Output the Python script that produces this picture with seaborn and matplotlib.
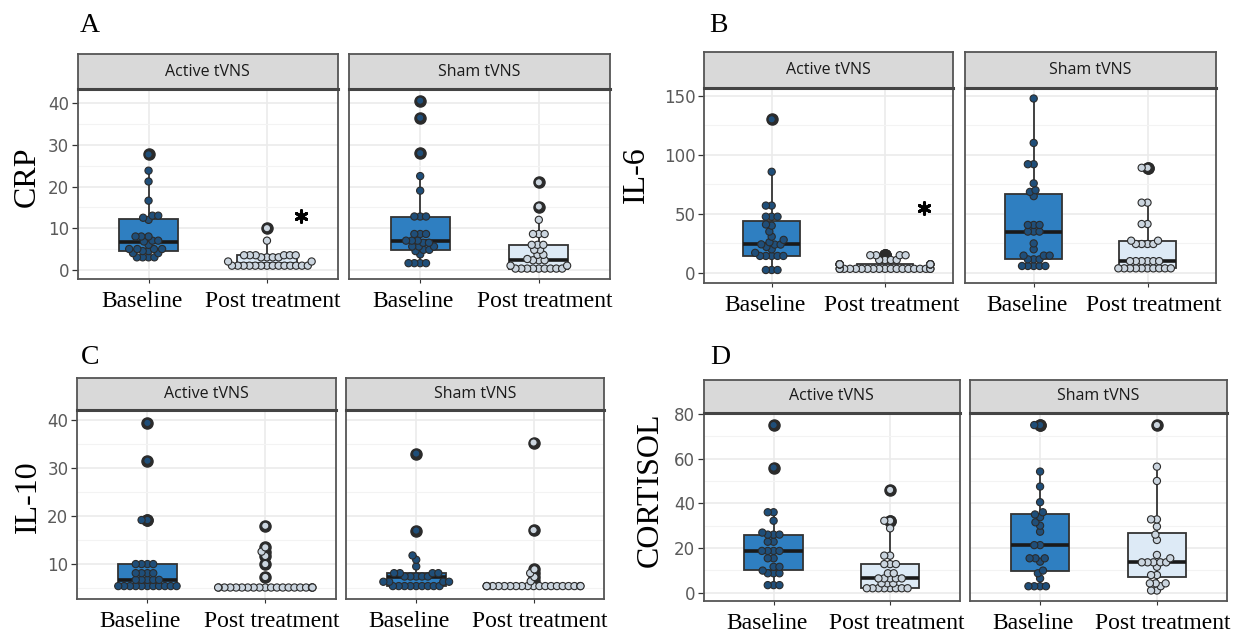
import matplotlib
matplotlib.use("Agg")
import matplotlib.pyplot as plt
from matplotlib.ticker import FixedLocator
import numpy as np
import pandas as pd
import seaborn as sns

sns.set_theme(style="white")
plt.rcParams["font.family"] = ["DejaVu Sans"]

# ---------------- data ----------------
facets = ["Active tVNS", "Sham tVNS"]
times = ["Baseline", "Post treatment"]
panel_letters = ["A", "B", "C", "D"]
markers = ["CRP", "IL-6", "IL-10", "CORTISOL"]

crp_active_base = [3, 3, 3, 3, 4, 4, 4.5, 4.5, 5, 5, 5, 5, 6, 6.8, 7, 7, 8, 8, 8,
                   12, 12.5, 13, 13, 16.6, 21.2, 23.8, 27.7]
crp_active_post = [1, 1, 1, 1, 1, 1, 1, 1, 1, 1, 1, 1, 1, 1, 2, 2, 3, 3, 3, 3,
                   3.5, 3.5, 3.5, 3.5, 3.5, 3.5, 7, 10]
crp_sham_base = [1.6, 1.6, 1.6, 1.6, 3.7, 4.5, 4.8, 4.8, 5.6, 5.6, 5.6, 6.5, 6.5,
                 7, 7, 7, 8.6, 8.6, 8.6, 12.8, 12.8, 12.8, 19, 22.5, 28, 36.5, 40.6]
crp_sham_post = [0.3, 0.3, 0.3, 0.3, 0.3, 0.3, 0.3, 0.3, 0.3, 1, 1, 2.3, 2.3, 2.3,
                 2.6, 3.6, 3.6, 4.8, 4.8, 6, 6, 6, 8.6, 8.6, 8.6, 12, 15.2, 21]

il6_active_base = [2.5, 2.5, 2.5, 14.4, 14.4, 14.4, 14.4, 14.4, 17, 20, 22, 24, 24,
                   24.2, 26, 28, 30.7, 35, 40, 41, 47.6, 47.6, 47.6, 57, 57, 85.6, 130]
il6_active_post = [3.5, 3.5, 3.5, 3.5, 3.5, 3.5, 3.5, 3.5, 3.5, 3.5, 3.5, 3.5, 3.5,
                   3.5, 3.5, 3.5, 3.5, 3.5, 3.5, 7.3, 7.3, 7.3, 7.3, 7.3, 7.3, 7.3,
                   7.3, 7.3, 7.3, 11, 11, 11, 11, 15, 15, 15, 15]
il6_sham_base = [5.9, 5.9, 5.9, 5.9, 5.9, 11.5, 11.5, 11.5, 14.7, 14.7, 14.7, 20, 25,
                 35, 35, 35, 40.6, 40.6, 40.6, 65, 68.6, 70, 75.8, 92, 92, 110, 147.6]
il6_sham_post = [3.9, 3.9, 3.9, 3.9, 3.9, 3.9, 3.9, 3.9, 3.9, 3.9, 10, 10, 10, 10, 10,
                 10, 24.5, 24.5, 24.5, 24.5, 27.3, 27.3, 41.4, 41.4, 59.5, 59.5, 89, 89]

il10_active_base = [5.3, 5.3, 5.3, 5.3, 5.3, 5.3, 5.3, 5.3, 5.3, 5.3, 5.3, 6.6, 6.6,
                    6.6, 6.6, 6.6, 8, 8, 8, 8, 9.9, 9.9, 9.9, 9.9, 19.1, 19.1, 31.5, 39.4]
il10_active_post = [5, 5, 5, 5, 5, 5, 5, 5, 5, 5, 5, 5, 5, 5, 5, 5, 5, 5, 5, 5,
                    7.2, 9.9, 11.6, 12.5, 13.4, 17.9]
il10_sham_base = [5.3, 5.3, 5.3, 5.3, 5.3, 5.3, 5.3, 5.3, 5.3, 6.2, 6.2, 6.2, 6.2,
                  7.3, 7.3, 7.3, 7.3, 7.3, 8, 8, 8, 8, 9.4, 10.8, 11.7, 16.9, 33]
il10_sham_post = [5.3, 5.3, 5.3, 5.3, 5.3, 5.3, 5.3, 5.3, 5.3, 5.3, 5.3, 5.3, 5.3,
                  5.3, 5.3, 5.3, 5.3, 5.3, 5.3, 5.3, 6.3, 7.2, 8, 8.8, 17, 35.3]

cort_active_base = [3.4, 3.4, 3.4, 8.7, 8.7, 8.7, 9.9, 11.6, 11.6, 15.4, 15.4, 18.7,
                    18.7, 18.7, 18.7, 22.8, 22.8, 26, 26, 26, 26.9, 32.2, 36, 36, 56, 75]
cort_active_post = [2, 2, 2, 2, 2, 2, 2, 2, 4.2, 4.2, 4.2, 6.4, 6.4, 6.4, 6.4, 6.4,
                    8.7, 8.7, 12.8, 12.8, 12.8, 16.6, 16.6, 28.8, 32.2, 32.2, 46]
cort_sham_base = [2.9, 2.9, 2.9, 2.9, 6.4, 8.7, 9.9, 13.9, 15.4, 15.4, 15.4, 21.3,
                  21.3, 27.3, 30, 31.5, 33.8, 35, 36, 40.5, 47.5, 54.2, 75, 75]
cort_sham_post = [1, 1, 2.9, 4.2, 4.2, 4.2, 7.9, 7.9, 11.6, 13.6, 13.6, 13.6, 13.6,
                  13.6, 15.4, 16.9, 23.6, 26, 29.6, 32.8, 32.8, 50, 56.4, 75]

data = {
    "CRP": [(crp_active_base, crp_active_post), (crp_sham_base, crp_sham_post)],
    "IL-6": [(il6_active_base, il6_active_post), (il6_sham_base, il6_sham_post)],
    "IL-10": [(il10_active_base, il10_active_post), (il10_sham_base, il10_sham_post)],
    "CORTISOL": [(cort_active_base, cort_active_post), (cort_sham_base, cort_sham_post)],
}

y_ticks = {"CRP": [0, 10, 20, 30, 40], "IL-6": [0, 50, 100, 150],
           "IL-10": [10, 20, 30, 40], "CORTISOL": [0, 20, 40, 60, 80]}
y_minor = {"CRP": [5, 15, 25, 35], "IL-6": [25, 75, 125],
           "IL-10": [5, 15, 25, 35], "CORTISOL": [10, 30, 50, 70]}
y_lims = {"CRP": (-2.2, 43.4), "IL-6": (-8.5, 156.5),
          "IL-10": (2.6, 42.1), "CORTISOL": (-3.7, 80.4)}
# significance marks (active tVNS, post treatment)
star_marks = {"CRP": (1.29, 13), "IL-6": (1.34, 55)}

# ---------------- layout (pixels) ----------------
W, H = 1248, 642
layout = {
    "CRP": dict(fx=[(77.5, 338), (349, 610)], py=(89, 279), sy=(54, 89),
                letter=(90, 25), ylab=(27, 177)),
    "IL-6": dict(fx=[(703.7, 953), (965.4, 1215.8)], py=(88, 283), sy=(52, 88),
                 letter=(718, 25), ylab=(636, 175)),
    "IL-10": dict(fx=[(76.7, 336), (345.8, 604)], py=(410, 599), sy=(378, 410),
                  letter=(90, 358), ylab=(28, 497)),
    "CORTISOL": dict(fx=[(703.7, 960), (970, 1227)], py=(413, 601), sy=(380, 413),
                     letter=(720, 358), ylab=(650, 490)),
}
label_shift = [-5.0, 4.5]   # horizontal offset (pt) of the x labels from ticks

box_pal = {"Baseline": "#2F7FC1", "Post treatment": "#DDEAF6"}
dot_pal = {"Baseline": "#1F4E79", "Post treatment": "#CBD5DF"}
frame_col = "#555555"
serif = ["Liberation Serif", "DejaVu Serif"]
SWARM_SIZE = 3.2
DOT_SIZE = 5.2


def rect(x0, x1, y0, y1):
    return [x0 / W, 1 - y1 / H, (x1 - x0) / W, (y1 - y0) / H]


fig = plt.figure(figsize=(W / 100, H / 100), dpi=100)
fig.patch.set_facecolor("white")
swarm_sets = []

for letter, m in zip(panel_letters, markers):
    L = layout[m]
    for fi, fname in enumerate(facets):
        base, post = data[m][fi]
        df = pd.DataFrame({"time": [times[0]] * len(base) + [times[1]] * len(post),
                           "value": list(base) + list(post)})
        x0, x1 = L["fx"][fi]
        ax = fig.add_axes(rect(x0, x1, *L["py"]))
        ax.set_facecolor("white")
        ax.set_axisbelow(True)

        sns.boxplot(data=df, x="time", y="value", hue="time", order=times,
                    hue_order=times, palette=box_pal, width=0.5, dodge=False,
                    saturation=1, linecolor="#333333", linewidth=1.3,
                    showcaps=False,
                    flierprops=dict(marker="o", markersize=8,
                                    markerfacecolor="#2b2b2b",
                                    markeredgecolor="#2b2b2b"),
                    medianprops=dict(color="#1a1a1a", linewidth=2.6),
                    legend=False, ax=ax)
        n_before = len(ax.collections)
        sns.swarmplot(data=df, x="time", y="value", hue="time", order=times,
                      hue_order=times, palette=dot_pal, size=SWARM_SIZE,
                      edgecolor="#2b2b2b", linewidth=0.8, legend=False, ax=ax)
        swarm_sets.append((ax, list(ax.collections[n_before:])))

        ax.set_xlim(-0.6, 1.6)
        ax.set_ylim(*y_lims[m])
        ax.yaxis.set_major_locator(FixedLocator(y_ticks[m]))
        ax.yaxis.set_minor_locator(FixedLocator(y_minor[m]))
        ax.yaxis.grid(True, which="major", color="#EBEBEB", linewidth=1.2)
        ax.yaxis.grid(True, which="minor", color="#F3F3F3", linewidth=0.8)
        ax.xaxis.grid(True, which="major", color="#EBEBEB", linewidth=1.2)
        ax.set_xlabel("")
        ax.set_ylabel("")
        for s in ax.spines.values():
            s.set_color(frame_col)
            s.set_linewidth(1.3)

        ax.set_xticks([0, 1])
        ax.set_xticklabels([])
        ax.tick_params(axis="x", bottom=True, length=3, width=0.8,
                       color="#333333")
        for i, t in enumerate(times):
            ax.annotate(t, xy=(i, 0), xycoords=ax.get_xaxis_transform(),
                        xytext=(label_shift[i], -16.5), textcoords="offset points",
                        ha="center", va="center", fontsize=17,
                        family=serif, color="black", annotation_clip=False)
        ax.tick_params(axis="y", which="minor", left=False, length=0)
        if fi == 0:
            ax.tick_params(axis="y", which="major", left=True, length=4,
                           width=0.9, color="#333333", labelsize=12,
                           labelcolor="#5A5A5A", pad=2)
        else:
            ax.tick_params(axis="y", which="major", left=False, labelleft=False)

        if fi == 0 and m in star_marks:
            sx, sy_ = star_marks[m]
            ax.scatter([sx], [sy_], marker=(6, 2, 0), s=70, color="black",
                       linewidths=2.2, zorder=6)

        # facet strip
        sax = fig.add_axes(rect(x0, x1, *L["sy"]))
        sax.set_facecolor("#D9D9D9")
        sax.set_xticks([])
        sax.set_yticks([])
        for s in sax.spines.values():
            s.set_color(frame_col)
            s.set_linewidth(1.3)
        sax.spines["bottom"].set_linewidth(2.2)
        sax.spines["bottom"].set_color("#444444")
        sax.text(0.5, 0.5, fname, ha="center", va="center", fontsize=11.5,
                 color="#1A1A1A", family=["Open Sans", "DejaVu Sans"],
                 transform=sax.transAxes)

    lx, ly = L["letter"]
    fig.text(lx / W, 1 - ly / H, letter, ha="center", va="center",
             fontsize=20, family=serif, color="black")
    yx, yy = L["ylab"]
    fig.text(yx / W, 1 - yy / H, m, ha="center", va="center", rotation=90,
             fontsize=23, family=serif, color="black")

# let seaborn place the swarm points, then redraw them larger so the
# stacked dots touch like a ggplot dotplot
fig.canvas.draw()
for ax, cols in swarm_sets:
    for c in cols:
        offs = np.asarray(c.get_offsets())
        if len(offs) == 0:
            continue
        fc = c.get_facecolors()
        ec = c.get_edgecolors()
        c.remove()
        ax.scatter(offs[:, 0], offs[:, 1], s=DOT_SIZE ** 2,
                   facecolors=fc, edgecolors=ec, linewidths=0.8, zorder=4,
                   clip_on=False)

fig.savefig("out.png", dpi=100, facecolor="white")
